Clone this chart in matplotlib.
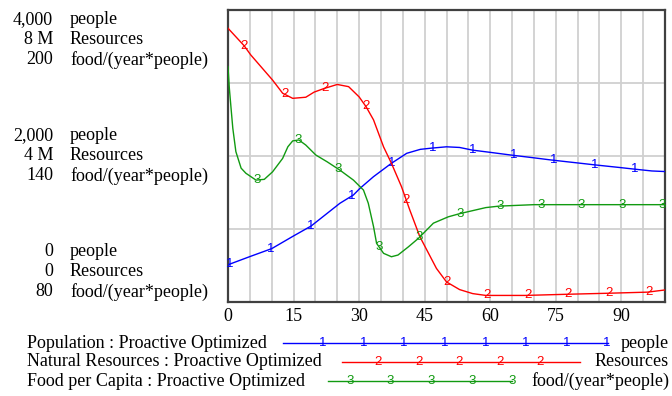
import numpy as np
import matplotlib
matplotlib.use("Agg")
import matplotlib.pyplot as plt

# ---------------- data ----------------
pop_t = [0, 5, 10, 15, 19, 25.6, 28.7, 30.2, 33.3, 37.4, 40.9, 44, 46.6, 50, 53, 56,
         60, 65, 70, 74, 80, 84, 90, 93, 97, 100]
pop_v = [510, 622, 731, 905, 1040, 1352, 1466, 1557, 1717, 1900, 2037, 2091, 2108, 2126,
         2117, 2080, 2050, 2011, 1975, 1945, 1905, 1878, 1840, 1820, 1795, 1787]

res_t = [0, 3.7, 5.2, 10.2, 12.5, 14.8, 17.8, 19.7, 22, 25, 27.6, 30, 31.6, 33.3, 35.6,
         37.4, 39.7, 41.6, 43.9, 47.7, 50, 53, 56, 59, 68, 77, 87, 96, 100]
res_v = [7.5e6, 7.02e6, 6.77e6, 6.08e6, 5.72e6, 5.58e6, 5.61e6, 5.75e6, 5.85e6, 5.96e6,
         5.9e6, 5.62e6, 5.35e6, 4.99e6, 4.25e6, 3.8e6, 3.16e6, 2.52e6, 1.79e6, 0.92e6,
         0.55e6, 0.34e6, 0.23e6, 0.18e6, 0.18e6, 0.21e6, 0.24e6, 0.27e6, 0.33e6]

food_t = [0, 0.3, 0.7, 1.1, 1.8, 3, 4.1, 6.4, 8.3, 10.2, 12.5, 13.7, 14.8, 16.2, 17.8,
          20.1, 22.7, 25.6, 28.7, 31, 32.1, 33.3, 34, 35.6, 37.4, 38.9, 41.3, 43.6, 47,
          50.4, 53, 59, 62, 70, 100]
food_v = [176.7, 168, 159.6, 151.4, 141.8, 135, 132.9, 130.1, 130.4, 133.5, 139, 143.8,
          146.2, 146.6, 144.5, 140.4, 137.6, 134.2, 130.1, 126, 120.6, 111, 104.1, 100,
          98.6, 99.3, 102.7, 106.2, 112.4, 115, 116.3, 118.8, 119.4, 120, 120]

x_ticks = [0, 15, 30, 45, 60, 75, 90]
left_numbers = [["4,000", "8 M", "200"], ["2,000", "4 M", "140"], ["0", "0", "80"]]
units = ["people", "Resources", "food/(year*people)"]
series_names = ["Population : Proactive Optimized",
                "Natural Resources : Proactive Optimized",
                "Food per Capita : Proactive Optimized"]

# ---------------- style ----------------
W, H = 672, 396
SERIF = "Liberation Serif"
SANS = "Liberation Sans"
FS = 13
MFS = 9.5
BLUE, RED, GREEN = "#0000ff", "#ff0000", "#119a11"
GRID = "#d0d0d0"
FRAME = "#404040"

fig = plt.figure(figsize=(W / 100, H / 100), dpi=100)
L, R, T, B = 228, 665, 10, 302
ax = fig.add_axes([L / W, 1 - B / H, (R - L) / W, (B - T) / H])
ax2 = ax.twinx()
ax3 = ax.twinx()

ax.set_xlim(0, 100)
ax.set_ylim(0, 4000)
ax2.set_ylim(0, 8e6)
ax3.set_ylim(80, 200)

for a in (ax2, ax3):
    a.set_yticks([])
    for s in a.spines.values():
        s.set_visible(False)

ax.set_xticks(np.arange(0, 101, 5), minor=False)
ax.set_yticks([1000, 2000, 3000])
ax.grid(True, color=GRID, lw=1.3)
ax.tick_params(length=0, labelleft=False, labelbottom=False)
for s in ax.spines.values():
    s.set_color(FRAME)
    s.set_linewidth(1.6)

series = [(ax, pop_t, pop_v, BLUE, "1", 0.4),
          (ax2, res_t, res_v, RED, "2", 3.7),
          (ax3, food_t, food_v, GREEN, "3", 6.7)]
for a, t, v, c, lab, start in series:
    a.plot(t, v, color=c, lw=1.0, zorder=3)
    tm = np.arange(start, 100.01, 9.27)
    vm = np.interp(tm, t, v)
    for x, y in zip(tm, vm):
        a.text(x, y, lab, color=c, fontsize=MFS, family=SANS, ha="center",
               va="center", zorder=4)

# x tick labels
for xv in x_ticks:
    ax.text(xv, -0.05, str(xv), transform=ax.get_xaxis_transform(), ha="center",
            va="center", fontsize=FS, family=SERIF)

# left labels
group_rows = [[20, 40, 60], [136, 156, 176], [252, 272, 292]]
for g, rows in enumerate(group_rows):
    for i, yp in enumerate(rows):
        fig.text(53 / W, 1 - yp / H, left_numbers[g][i], ha="right", va="center",
                 fontsize=FS, family=SERIF)
        fig.text(70 / W, 1 - yp / H, units[i], ha="left", va="center",
                 fontsize=FS, family=SERIF)

# legend
leg_y = [343, 362, 381]
leg_line = [(283, 608), (342, 580), (328, 512)]
leg_marks = [323, 378, 350]
colors = [BLUE, RED, GREEN]
for i in range(3):
    yf = 1 - leg_y[i] / H
    fig.text(27 / W, yf, series_names[i], ha="left", va="center", fontsize=FS,
             family=SERIF)
    fig.text(669 / W, yf, units[i], ha="right", va="center", fontsize=FS,
             family=SERIF)
    x0, x1 = leg_line[i]
    fig.add_artist(plt.Line2D([x0 / W, x1 / W], [yf, yf], color=colors[i], lw=1.0))
    mx = np.arange(leg_marks[i], x1 + 1, 40.6)
    for m in mx:
        fig.text(m / W, yf, str(i + 1), ha="center", va="center", color=colors[i],
                 fontsize=MFS, family=SANS)

fig.savefig("out.png", dpi=100)
